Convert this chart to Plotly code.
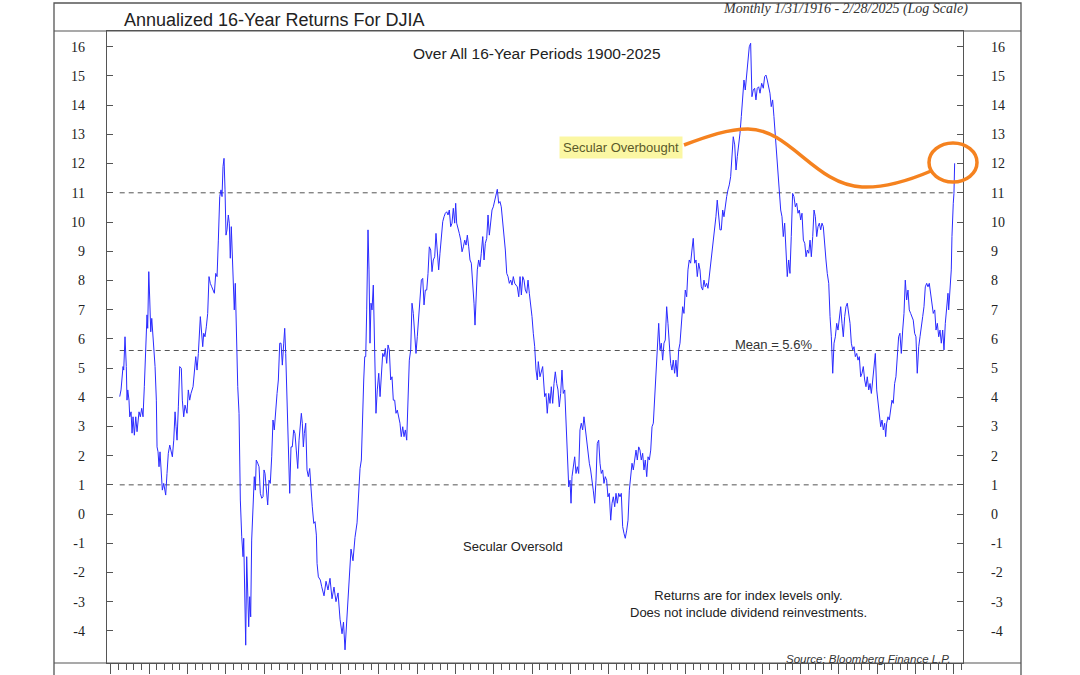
import plotly.graph_objects as go

# ---------------- data ----------------
years = [
    1916.17, 1916.34, 1916.60, 1916.69, 1916.86, 1917.03, 1917.12, 1917.22, 1917.38, 1917.48,
    1917.65, 1917.78, 1917.91, 1918.08, 1918.26, 1918.43, 1918.69, 1918.86, 1919.04, 1919.21,
    1919.38, 1919.56, 1919.73, 1919.82, 1919.96, 1920.09, 1920.22, 1920.35, 1920.48, 1920.61,
    1920.78, 1920.95, 1921.04, 1921.17, 1921.30, 1921.43, 1921.56, 1921.73, 1921.91, 1922.17,
    1922.34, 1922.51, 1922.70, 1922.86, 1923.04, 1923.22, 1923.39, 1923.52, 1923.65, 1923.82,
    1924.00, 1924.21, 1924.34, 1924.52, 1924.69, 1924.95, 1925.12, 1925.30, 1925.47, 1925.74,
    1925.91, 1926.09, 1926.26, 1926.43, 1926.69, 1926.87, 1927.00, 1927.13, 1927.30, 1927.47,
    1927.65, 1927.82, 1927.99, 1928.18, 1928.35, 1928.52, 1928.70, 1928.87, 1929.04, 1929.22,
    1929.39, 1929.52, 1929.65, 1929.78, 1929.91, 1930.04, 1930.17, 1930.34, 1930.47, 1930.60,
    1930.73, 1930.86, 1930.95, 1931.12, 1931.25, 1931.39, 1931.48, 1931.57, 1931.74, 1931.91,
    1932.09, 1932.26, 1932.35, 1932.48, 1932.61, 1932.74, 1932.87, 1933.00, 1933.13, 1933.26,
    1933.39, 1933.56, 1933.73, 1933.86, 1933.99, 1934.18, 1934.35, 1934.52, 1934.70, 1934.87,
    1935.00, 1935.13, 1935.30, 1935.48, 1935.65, 1935.82, 1936.00, 1936.17, 1936.34, 1936.53,
    1936.70, 1936.87, 1937.05, 1937.22, 1937.39, 1937.57, 1937.70, 1937.83, 1938.00, 1938.17,
    1938.35, 1938.52, 1938.69, 1938.87, 1939.04, 1939.21, 1939.40, 1939.57, 1939.74, 1939.87,
    1940.00, 1940.13, 1940.26, 1940.44, 1940.61, 1940.78, 1940.96, 1941.13, 1941.30, 1941.49,
    1941.66, 1941.83, 1941.92, 1942.09, 1942.35, 1942.53, 1942.83, 1943.09, 1943.35, 1943.61,
    1943.87, 1944.13, 1944.39, 1944.66, 1944.92, 1945.18, 1945.37, 1945.57, 1945.83, 1946.09,
    1946.35, 1946.61, 1946.87, 1947.14, 1947.33, 1947.53, 1947.70, 1947.88, 1948.01, 1948.14,
    1948.27, 1948.40, 1948.57, 1948.70, 1948.83, 1948.96, 1949.09, 1949.26, 1949.44, 1949.61,
    1949.78, 1949.97, 1950.14, 1950.31, 1950.49, 1950.66, 1950.83, 1951.01, 1951.18, 1951.35,
    1951.53, 1951.70, 1951.87, 1952.05, 1952.22, 1952.39, 1952.57, 1952.74, 1952.91, 1953.10,
    1953.27, 1953.44, 1953.62, 1953.79, 1953.96, 1954.14, 1954.31, 1954.48, 1954.66, 1954.83,
    1955.00, 1955.19, 1955.36, 1955.53, 1955.71, 1955.88, 1956.05, 1956.23, 1956.40, 1956.57,
    1956.75, 1956.92, 1957.09, 1957.27, 1957.44, 1957.61, 1957.79, 1957.96, 1958.13, 1958.32,
    1958.49, 1958.66, 1958.84, 1959.01, 1959.18, 1959.36, 1959.53, 1959.70, 1959.88, 1960.01,
    1960.14, 1960.31, 1960.48, 1960.67, 1960.84, 1961.01, 1961.19, 1961.36, 1961.53, 1961.71,
    1961.88, 1962.05, 1962.23, 1962.40, 1962.53, 1962.66, 1962.83, 1963.01, 1963.18, 1963.35,
    1963.54, 1963.71, 1963.88, 1964.06, 1964.23, 1964.40, 1964.58, 1964.75, 1964.92, 1965.10,
    1965.27, 1965.44, 1965.62, 1965.79, 1965.96, 1966.15, 1966.32, 1966.49, 1966.67, 1966.84,
    1967.01, 1967.19, 1967.36, 1967.53, 1967.71, 1967.88, 1968.05, 1968.24, 1968.41, 1968.58,
    1968.76, 1968.93, 1969.10, 1969.28, 1969.45, 1969.62, 1969.80, 1969.97, 1970.14, 1970.32,
    1970.49, 1970.66, 1970.79, 1970.92, 1971.01, 1971.36, 1971.62, 1971.79, 1971.96, 1972.15,
    1972.32, 1972.49, 1972.67, 1972.84, 1973.01, 1973.19, 1973.36, 1973.53, 1973.71, 1973.88,
    1974.05, 1974.24, 1974.41, 1974.58, 1974.76, 1974.93, 1975.06, 1975.19, 1975.36, 1975.54,
    1975.71, 1975.88, 1976.06, 1976.23, 1976.40, 1976.58, 1976.75, 1976.92, 1977.10, 1977.27,
    1977.45, 1977.62, 1977.79, 1977.96, 1978.15, 1978.32, 1978.49, 1978.67, 1978.84, 1979.01,
    1979.19, 1979.36, 1979.53, 1979.71, 1979.88, 1980.05, 1980.24, 1980.41, 1980.58, 1980.76,
    1980.93, 1981.10, 1981.28, 1981.45, 1981.62, 1981.80, 1981.97, 1982.14, 1982.33, 1982.50,
    1982.67, 1982.85, 1983.02, 1983.19, 1983.37, 1983.54, 1983.71, 1983.89, 1984.06, 1984.23,
    1984.41, 1984.58, 1984.75, 1984.94, 1985.11, 1985.28, 1985.46, 1985.63, 1985.80, 1985.98,
    1986.15, 1986.32, 1986.50, 1986.67, 1986.84, 1987.02, 1987.19, 1987.36, 1987.54, 1987.71,
    1987.88, 1988.06, 1988.23, 1988.40, 1988.58, 1988.75, 1988.92, 1989.11, 1989.28, 1989.45,
    1989.63, 1989.80, 1989.97, 1990.15, 1990.32, 1990.49, 1990.67, 1990.84, 1991.01, 1991.20,
    1991.37, 1991.54, 1991.72, 1991.89, 1992.06, 1992.24, 1992.41, 1992.58, 1992.76, 1992.93,
    1993.10, 1993.28, 1993.45, 1993.62, 1993.80, 1993.97, 1994.14, 1994.33, 1994.50, 1994.67,
    1994.85, 1995.02, 1995.19, 1995.37, 1995.54, 1995.71, 1995.89, 1996.06, 1996.23, 1996.42,
    1996.59, 1996.76, 1996.94, 1997.11, 1997.28, 1997.46, 1997.63, 1997.80, 1997.98, 1998.15,
    1998.32, 1998.50, 1998.67, 1998.84, 1999.02, 1999.19, 1999.36, 1999.55, 1999.72, 1999.94,
    2000.15, 2000.33, 2000.50, 2000.67, 2000.85, 2001.02, 2001.19, 2001.37, 2001.54, 2001.72,
    2001.90, 2002.07, 2002.24, 2002.42, 2002.59, 2002.76, 2002.94, 2003.11, 2003.28, 2003.46,
    2003.63, 2003.80, 2003.98, 2004.15, 2004.33, 2004.51, 2004.68, 2004.85, 2005.03, 2005.20,
    2005.38, 2005.56, 2005.73, 2005.90, 2006.08, 2006.25, 2006.42, 2006.60, 2006.77, 2006.94,
    2007.12, 2007.29, 2007.46, 2007.64, 2007.81, 2007.98, 2008.16, 2008.33, 2008.50, 2008.69,
    2008.86, 2009.03, 2009.21, 2009.38, 2009.55, 2009.73, 2009.90, 2010.07, 2010.25, 2010.42,
    2010.59, 2010.77, 2010.94, 2011.11, 2011.30, 2011.47, 2011.64, 2011.82, 2011.99, 2012.16,
    2012.34, 2012.51, 2012.68, 2012.86, 2013.03, 2013.20, 2013.38, 2013.55, 2013.72, 2013.91,
    2014.08, 2014.25, 2014.43, 2014.60, 2014.77, 2014.95, 2015.12, 2015.29, 2015.47, 2015.64,
    2015.81, 2015.99, 2016.12, 2016.25, 2016.42, 2016.59, 2016.77, 2016.94, 2017.11, 2017.29,
    2017.46, 2017.63, 2017.81, 2017.98, 2018.16, 2018.34, 2018.51, 2018.68, 2018.86, 2019.03,
    2019.20, 2019.38, 2019.55, 2019.72, 2019.90, 2020.07, 2020.24, 2020.43, 2020.60, 2020.77,
    2020.95, 2021.12, 2021.29, 2021.47, 2021.64, 2021.81, 2021.99, 2022.16, 2022.33, 2022.52,
    2022.69, 2022.86, 2023.04, 2023.21, 2023.38, 2023.56, 2023.73, 2023.90, 2024.08, 2024.25,
    2024.34, 2024.51, 2024.68, 2024.77, 2024.86, 2024.94, 2025.03, 2025.12,
]

returns = [
    4.02, 4.25, 5.05, 4.93, 6.07, 5.05, 3.90, 4.25, 3.90, 3.33,
    3.50, 2.77, 3.33, 2.70, 3.33, 2.82, 3.50, 3.33, 3.62, 3.33,
    4.36, 5.62, 6.82, 6.36, 8.30, 7.33, 6.24, 6.70, 6.20, 5.96,
    5.05, 3.90, 2.30, 2.13, 1.62, 2.13, 1.39, 0.82, 1.05, 0.65,
    1.39, 2.08, 2.36, 2.19, 1.96, 2.53, 3.50, 2.99, 2.53, 3.67,
    5.05, 4.99, 3.90, 3.33, 3.73, 3.45, 4.25, 3.90, 4.13, 4.36,
    4.93, 5.39, 4.93, 5.50, 6.76, 6.30, 5.73, 6.19, 6.07, 6.41,
    6.87, 8.13, 7.90, 7.78, 7.67, 7.56, 8.24, 8.13, 9.38, 10.87,
    11.10, 10.87, 11.90, 12.18, 11.10, 9.55, 9.73, 10.24, 9.96, 8.76,
    9.84, 9.04, 7.96, 6.99, 7.90, 6.07, 4.82, 4.36, 3.45, 0.48,
    -0.78, -1.46, -0.83, -2.95, -4.49, -1.46, -2.60, -3.86, -2.83, -3.52,
    -0.89, 0.02, 1.28, 0.82, 1.85, 1.74, 1.62, 0.71, 0.54, 0.59,
    1.51, 1.39, 0.93, 0.31, 1.16, 1.05, 1.96, 3.22, 2.88, 3.67,
    4.13, 4.59, 5.85, 5.85, 5.10, 5.85, 6.36, 5.50, 3.90, 2.53,
    0.71, 2.30, 2.30, 2.88, 2.76, 2.19, 1.56, 2.53, 3.11, 3.45,
    3.11, 2.30, 2.76, 3.11, 1.51, 1.28, 1.56, 0.71, 0.25, -0.32,
    -0.26, -0.72, -1.69, -2.15, -2.26, -2.49, -2.80, -2.30, -2.60, -2.20,
    -2.90, -2.50, -3.00, -2.70, -3.60, -4.10, -3.70, -4.65, -3.60, -2.30,
    -1.20, -1.60, -0.80, -0.30, 0.60, 1.56, 1.85, 3.79, 4.59, 5.39,
    5.39, 6.99, 9.73, 8.36, 5.85, 7.22, 6.99, 7.84, 5.16, 3.45,
    4.25, 4.82, 4.02, 4.70, 5.50, 5.39, 5.67, 5.16, 5.79, 5.62,
    4.59, 4.70, 3.90, 3.90, 3.45, 3.56, 3.33, 3.11, 2.65, 2.99,
    2.65, 2.88, 2.53, 3.79, 5.27, 5.62, 7.22, 6.87, 5.96, 5.50,
    6.07, 6.76, 7.67, 8.01, 8.07, 7.16, 7.67, 7.67, 8.24, 9.15,
    9.04, 8.30, 8.70, 8.81, 9.61, 8.93, 8.36, 8.93, 9.38, 10.01,
    10.18, 10.30, 10.35, 10.24, 10.41, 9.84, 9.96, 10.47, 9.96, 10.64,
    9.96, 9.73, 9.61, 9.38, 8.98, 9.15, 9.38, 9.21, 9.55, 9.15,
    8.70, 8.59, 8.01, 7.22, 6.47, 7.44, 8.36, 8.70, 8.47, 8.93,
    9.50, 8.70, 9.27, 9.44, 10.24, 9.55, 9.96, 10.41, 10.52, 10.75,
    10.87, 11.12, 10.64, 10.70, 10.52, 9.96, 9.61, 9.04, 8.24, 8.13,
    7.90, 8.01, 7.84, 8.13, 7.90, 7.84, 7.78, 7.44, 8.13, 7.50,
    8.13, 8.01, 7.67, 7.56, 8.01, 7.56, 7.22, 6.76, 6.19, 5.73,
    4.93, 4.59, 5.22, 4.82, 4.70, 5.05, 4.02, 4.13, 3.45, 4.13,
    3.79, 4.36, 3.79, 4.47, 4.87, 4.47, 4.25, 3.67, 4.13, 4.93,
    4.13, 4.25, 3.33, 2.42, 0.93, 1.16, 0.37, 1.28, 1.74, 1.96,
    1.39, 1.62, 1.39, 2.88, 3.11, 2.88, 3.33, 2.93, 2.53, 1.96,
    1.74, 1.51, 1.05, 0.82, 0.37, 1.16, 2.42, 2.53, 1.74, 1.39,
    1.51, 1.05, 1.28, 1.16, 0.59, 0.71, -0.21, 0.37, 0.59, 0.25,
    0.71, 0.37, 0.71, 0.59, 0.71, -0.43, -0.66, -0.83, -0.55, -0.21,
    0.82, 1.39, 1.74, 1.51, 1.85, 2.19, 1.85, 2.30, 2.19, 1.85,
    2.08, 1.51, 1.85, 1.28, 1.96, 1.85, 2.19, 2.99, 3.11, 4.02,
    4.82, 5.62, 6.53, 5.62, 5.85, 5.27, 5.85, 5.96, 7.10, 6.53,
    5.62, 5.16, 4.93, 5.27, 4.82, 5.27, 4.70, 5.62, 5.85, 6.53,
    7.10, 6.87, 7.67, 7.44, 8.36, 8.70, 8.59, 9.04, 9.44, 8.59,
    8.70, 8.13, 8.59, 8.36, 7.78, 7.67, 8.01, 7.78, 7.90, 7.73,
    8.13, 8.59, 8.81, 9.38, 9.73, 10.18, 10.75, 10.07, 9.73, 9.73,
    10.41, 10.18, 10.64, 10.87, 11.10, 11.27, 11.55, 12.24, 12.92, 12.64,
    11.78, 12.24, 12.58, 13.04, 13.61, 14.41, 14.86, 14.52, 15.09, 15.66,
    16.00, 16.12, 14.29, 14.52, 14.58, 14.18, 14.58, 14.63, 14.41, 14.75,
    14.58, 14.98, 15.03, 14.86, 14.63, 14.41, 13.95, 14.18, 13.61, 12.92,
    12.47, 11.78, 11.21, 10.41, 10.18, 9.50, 9.96, 8.81, 8.13, 8.70,
    8.24, 9.50, 10.98, 10.87, 10.52, 10.64, 10.30, 10.41, 10.07, 10.30,
    9.38, 9.27, 8.81, 9.04, 8.93, 9.38, 8.81, 9.50, 10.41, 10.18,
    9.50, 9.84, 9.96, 9.73, 9.96, 9.84, 9.04, 8.70, 8.24, 7.90,
    6.76, 6.07, 4.82, 5.85, 6.07, 6.53, 6.30, 6.76, 7.10, 6.53,
    6.07, 6.76, 7.10, 7.22, 6.76, 6.53, 5.85, 5.62, 5.73, 5.39,
    5.50, 5.27, 5.39, 4.70, 4.82, 5.05, 4.59, 4.36, 4.70, 4.25,
    4.47, 4.13, 4.59, 5.16, 5.50, 4.25, 3.90, 3.56, 2.99, 3.22,
    2.88, 3.11, 2.65, 3.11, 3.33, 3.22, 3.67, 3.90, 3.79, 4.47,
    4.70, 5.39, 6.07, 6.19, 5.50, 6.30, 6.87, 8.01, 7.33, 7.67,
    6.99, 6.87, 6.76, 6.64, 6.19, 6.07, 4.82, 5.73, 6.07, 6.53,
    6.76, 7.10, 7.78, 7.90, 7.78, 7.90, 7.56, 7.22, 6.87, 6.99,
    6.30, 6.53, 6.07, 6.30, 5.85, 6.30, 5.62, 6.53, 7.10, 7.56,
    6.99, 7.90, 8.36, 9.50, 10.41, 10.64, 10.98, 12.01,
]

ref_levels = [11.0, 5.6, 1.0]          # overbought, mean, oversold
y_tick_values = list(range(-4, 17))
y_tick_text = [str(v) for v in y_tick_values]   # plain hyphen minus, as in the original
x_major_start, x_major_step, x_minor_step = 1920, 5, 1

# ---------------- layout geometry ----------------
W, H = 1080, 675
ML, MR, MT, MB = 107, 117, 31, 12
X_RANGE = [1914.51, 2026.21]
Y_RANGE = [-5.10, 16.54]
PW, PH = W - ML - MR, H - MT - MB


def px(x):
    return (x - ML) / PW


def py(y):
    return (H - MB - y) / PH


FRAME = "#555555"
ORANGE = "#f5821f"
SANS = "Liberation Sans, Arial, sans-serif"
SERIF = "Liberation Serif, Times New Roman, serif"

fig = go.Figure()

# reference dashed levels
for lvl in ref_levels:
    fig.add_trace(go.Scatter(
        x=[years[0], years[-1]], y=[lvl, lvl], mode="lines",
        line=dict(color="#555555", width=1, dash="5px,4px"),
        hoverinfo="skip", showlegend=False))

# main series
fig.add_trace(go.Scatter(
    x=years, y=returns, mode="lines",
    line=dict(color="#2b2bff", width=1),
    showlegend=False, name="DJIA 16-yr annualized return"))

# dummy trace for the right axis
fig.add_trace(go.Scatter(x=[years[0]], y=[returns[0]], yaxis="y2", mode="markers",
                         marker=dict(opacity=0), hoverinfo="skip", showlegend=False))

axis_common = dict(range=Y_RANGE, tickmode="array", tickvals=y_tick_values,
                   ticktext=y_tick_text,
                   ticks="inside", ticklen=6, tickwidth=1, tickcolor=FRAME,
                   showgrid=False, zeroline=False, showline=True, linecolor=FRAME,
                   linewidth=1.2, automargin=False,
                   tickfont=dict(family=SERIF, size=14, color="#222222"))

fig.update_layout(
    width=W, height=H,
    margin=dict(l=ML, r=MR, t=MT, b=MB, pad=0),
    paper_bgcolor="white", plot_bgcolor="white",
    showlegend=False,
    xaxis=dict(range=X_RANGE, showgrid=False, zeroline=False, showline=True,
               linecolor=FRAME, linewidth=1.2, mirror=True, automargin=False,
               tickmode="linear", tick0=x_major_start, dtick=x_major_step,
               ticks="outside", ticklen=10, tickwidth=1, tickcolor=FRAME,
               showticklabels=False,
               minor=dict(dtick=x_minor_step, tick0=x_major_start, ticks="outside",
                          ticklen=6, tickwidth=1, tickcolor=FRAME, showgrid=False)),
    yaxis=dict(**axis_common, side="left", ticklabelstandoff=18),
    yaxis2=dict(**axis_common, side="right", overlaying="y", ticklabelstandoff=24),
)

shapes = []
# outer frame
shapes.append(dict(type="rect", xref="paper", yref="paper",
                   x0=px(54), x1=px(1021), y0=py(680), y1=py(3),
                   line=dict(color=FRAME, width=1.3)))
shapes.append(dict(type="line", xref="paper", yref="paper",
                   x0=px(54), x1=px(1021), y0=py(31), y1=py(31),
                   line=dict(color=FRAME, width=1.2)))
shapes.append(dict(type="line", xref="paper", yref="paper",
                   x0=px(54), x1=px(1021), y0=py(663), y1=py(663),
                   line=dict(color=FRAME, width=1.2)))


def P(x, y):
    return f"{px(x):.5f},{py(y):.5f}"


# orange swoosh from the label to the circled end point
swoosh = (f"M {P(684,145)} C {P(708,136)} {P(728,129)} {P(748,129)} "
          f"C {P(790,129)} {P(815,185)} {P(862,187)} "
          f"C {P(885,188)} {P(910,180)} {P(931,171)}")
shapes.append(dict(type="path", xref="paper", yref="paper", path=swoosh,
                   line=dict(color=ORANGE, width=3.5)))
shapes.append(dict(type="circle", xref="paper", yref="paper",
                   x0=px(929), x1=px(977), y0=py(182), y1=py(143),
                   line=dict(color=ORANGE, width=3.5)))
fig.update_layout(shapes=shapes)

ann = []
ann.append(dict(text="Annualized 16-Year Returns For DJIA", xref="paper", yref="paper",
                x=px(122), y=py(19.5), xanchor="left", yanchor="middle", showarrow=False,
                font=dict(family=SANS, size=18, color="#222222")))
ann.append(dict(text="Monthly 1/31/1916 - 2/28/2025 (Log Scale)", xref="paper", yref="paper",
                x=px(845), y=py(9), xanchor="center", yanchor="middle", showarrow=False,
                font=dict(family=SERIF, size=14, color="#333333", style="italic")))
ann.append(dict(text="Over All 16-Year Periods 1900-2025", xref="paper", yref="paper",
                x=px(537), y=py(54), xanchor="center", yanchor="middle", showarrow=False,
                font=dict(family=SANS, size=15.5, color="#222222")))
ann.append(dict(text="Secular Overbought", xref="paper", yref="paper",
                x=px(621), y=py(147.5), xanchor="center", yanchor="middle", showarrow=False,
                bgcolor="#fbf7a3", borderpad=3,
                font=dict(family=SANS, size=13, color="#5a5a2a")))
ann.append(dict(text="Mean = 5.6%", xref="paper", yref="paper",
                x=px(773), y=py(344), xanchor="center", yanchor="middle", showarrow=False,
                font=dict(family=SANS, size=13, color="#333333")))
ann.append(dict(text="Secular Oversold", xref="paper", yref="paper",
                x=px(513), y=py(546), xanchor="center", yanchor="middle", showarrow=False,
                font=dict(family=SANS, size=13, color="#222222")))
ann.append(dict(text="Returns are for index levels only.<br>Does not include dividend reinvestments.",
                xref="paper", yref="paper", x=px(748), y=py(604), xanchor="center",
                yanchor="middle", showarrow=False, align="center",
                font=dict(family=SANS, size=13, color="#222222")))
ann.append(dict(text="<i>Source: Bloomberg Finance L.P.</i>", xref="paper", yref="paper",
                x=px(953), y=py(659), xanchor="right", yanchor="middle", showarrow=False,
                font=dict(family=SANS, size=11.5, color="#333333")))
fig.update_layout(annotations=ann)

fig.write_html("out.html",
               config={"displayModeBar": False, "staticPlot": True},
               post_script="document.body.style.margin='0px';document.body.style.overflow='hidden';")
